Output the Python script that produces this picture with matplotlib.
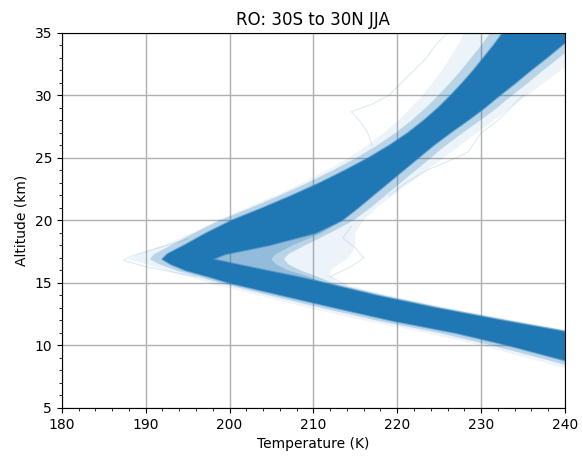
import numpy as np
import matplotlib
matplotlib.use("Agg")
import matplotlib.pyplot as plt
from matplotlib.ticker import MultipleLocator

# --- Envolventes de los perfiles RO ---
alt = [7, 8, 9, 10, 11, 12, 13, 14, 15, 15.5, 16, 16.5, 16.9, 17.3, 18, 19, 20,
       21, 22, 23, 24, 25, 26, 27, 28, 29, 30, 31, 32, 33, 34, 35, 36]

# nucleo denso (lado frio / lado calido)
t_frio = [250, 244.5, 238.9, 233.3, 227.0, 219.3, 212.7, 206.3, 200.0, 197.5, 194.8,
          193.0, 192.0, 192.6, 194.6, 197.3, 200.3, 204.0, 207.5, 210.8, 213.8,
          216.6, 219.1, 221.3, 223.2, 224.9, 226.4, 227.8, 229.1, 230.3, 231.5,
          232.6, 233.7]
t_calido = [262, 258, 254, 249, 240.8, 232.5, 224.6, 217.5, 211.3, 208.0, 204.3,
            200.7, 198.0, 199.5, 204.6, 210.3, 213.4, 215.3, 217.1, 218.9, 220.7,
            222.5, 224.3, 226.3, 228.4, 230.4, 232.2, 234.1, 235.9, 237.8, 239.6,
            241.5, 243.0]

# franja intermedia alrededor del nucleo
t_frio_medio = [248, 242.5, 237, 231.3, 225, 217.5, 211, 204.8, 198.8, 196.3, 193.6,
                191.6, 190.5, 191, 193, 195.8, 198.8, 202.5, 206, 209.3, 212.3,
                215.1, 217.6, 219.8, 221.7, 223.4, 224.9, 226.3, 227.6, 228.8, 230,
                231.1, 232.2]
t_calido_medio = [262, 258, 254, 249, 241.8, 233.5, 225.6, 218.5, 212.3, 210.5, 208.5,
                  207, 206.5, 207, 209, 212, 214.8, 216.8, 218.6, 220.4, 222.2, 224,
                  225.8, 227.8, 229.9, 231.9, 233.7, 235.6, 237.4, 239.3, 241.1, 243,
                  244.5]

# relleno dentro de la muesca de la tropopausa
t_muesca = [262, 258, 254, 249, 240.8, 232.5, 224.6, 217.5, 211.3, 209.5, 207.0,
            205.5, 205.0, 205.5, 207.5, 211.0, 213.4, 215.3, 217.1, 218.9, 220.7,
            222.5, 224.3, 226.3, 228.4, 230.4, 232.2, 234.1, 235.9, 237.8, 239.6,
            241.5, 243.0]

# perfiles tenues
t_frio_tenue = [246, 241, 235.5, 230, 223.5, 216, 209.5, 203.5, 197.5, 195, 192.5,
                190, 188, 189, 192, 195.5, 198.5, 202, 205.5, 208.7, 211.6, 214.2,
                216.4, 218.4, 220.1, 221.6, 223, 224.2, 225.3, 226.3, 227.2, 228,
                228.8]
t_calido_tenue = [262, 258, 254, 249, 242, 234, 226, 219, 213, 212, 212, 213, 214,
                  214.5, 215, 215, 216, 217.5, 219.5, 221.5, 223.5, 225.5, 227.5,
                  229.5, 231.5, 233.5, 235.5, 237.5, 239.5, 241.5, 243.5, 245, 246]

# algunos perfiles atipicos sueltos
atip1_alt = [26, 27, 28, 28.7, 29.3, 30, 31, 32, 33, 34, 35]
atip1_t = [217, 216.5, 215.5, 214.5, 217, 219, 220.5, 222, 223.5, 224.5, 226]
atip2_alt = [22, 23, 24, 25, 25.5, 26, 27, 28, 29, 30]
atip2_t = [219, 221, 223.5, 227, 228.5, 229, 230, 232, 233.5, 235]
atip3_alt = [15.5, 16.3, 16.8, 17.2, 17.8, 18.5]
atip3_t = [196, 190, 187.3, 188.5, 191.5, 195]
atip4_alt = [14.8, 15.5, 16.3, 17, 17.8, 18.6, 19.5]
atip4_t = [214, 212, 214.5, 216, 215, 213.5, 214.5]

azul = "#1f77b4"

fig, ax = plt.subplots(figsize=(5.83, 4.7), dpi=100)
fig.subplots_adjust(left=0.106, right=0.969, bottom=0.132, top=0.930)

ax.fill_betweenx(alt, t_frio_tenue, t_calido_tenue, color=azul, alpha=0.08, lw=0)
ax.fill_betweenx(alt, t_frio_medio, t_calido_medio, color=azul, alpha=0.25, lw=0)
ax.fill_betweenx(alt, t_frio, t_muesca, color=azul, alpha=0.25, lw=0)
for a, t in [(atip1_alt, atip1_t), (atip2_alt, atip2_t), (atip3_alt, atip3_t), (atip4_alt, atip4_t)]:
    ax.plot(t, a, color=azul, alpha=0.15, lw=0.8)
ax.fill_betweenx(alt, t_frio, t_calido, facecolor=azul, edgecolor=(0.12, 0.47, 0.71, 0.5), lw=1.5)

ax.set_xlim(180, 240)
ax.set_ylim(5, 35)
ax.xaxis.set_minor_locator(MultipleLocator(2))
ax.yaxis.set_minor_locator(MultipleLocator(1))
ax.grid(True, which="major", color="#b0b0b0", lw=1.0)
ax.set_axisbelow(True)
ax.set_title("RO: 30S to 30N JJA", fontsize=12)
ax.set_xlabel("Temperature (K)")
ax.set_ylabel("Altitude (km)")

plt.savefig("out.png", dpi=100)
